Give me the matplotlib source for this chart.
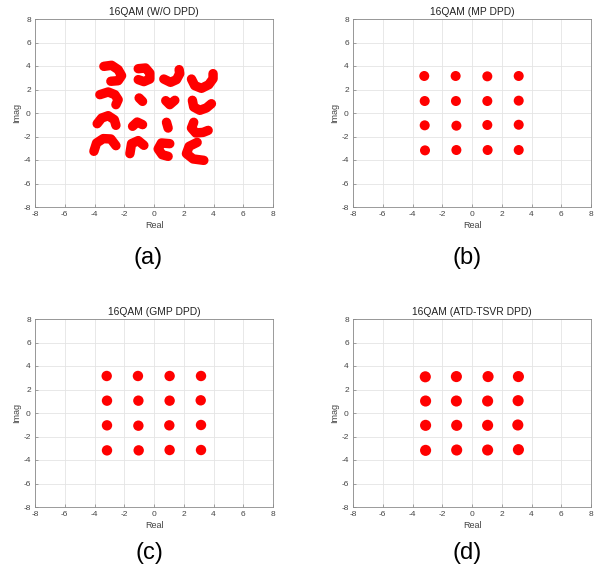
import numpy as np
import matplotlib
matplotlib.use("Agg")
import matplotlib.pyplot as plt

plt.rcParams['font.family'] = ['Liberation Sans', 'DejaVu Sans']
plt.rcParams['axes.unicode_minus'] = False

# --- dados ---
titles = ['16QAM (W/O DPD)', '16QAM (MP DPD)', '16QAM (GMP DPD)', '16QAM (ATD-TSVR DPD)']
panel_tags = ['(a)', '(b)', '(c)', '(d)']
ticks = [-8, -6, -4, -2, 0, 2, 4, 6, 8]

# (a) sem DPD: cada simbolo vira um "crescente" (pontos ao longo do arco)
arcs_real = [
    [-3.37, -2.85, -2.41, -2.18, -2.41, -2.90],
    [-1.06, -0.57, -0.28, -0.28, -0.68, -1.06],
    [0.66, 1.11, 1.51, 1.73, 1.69],
    [2.52, 2.74, 3.19, 3.68, 3.97, 3.97],
    [-3.64, -3.08, -2.63, -2.41, -2.56],
    [-1.00, -0.77],
    [0.79, 1.06, 1.40],
    [2.58, 2.67, 3.08, 3.52, 3.86],
    [-3.82, -3.52, -3.08, -2.67, -2.56],
    [-1.44, -1.13, -0.77],
    [0.84, 0.95],
    [2.67, 2.52, 2.81, 3.30, 3.64],
    [-4.04, -3.86, -3.41, -2.90, -2.56],
    [-1.62, -1.51, -1.06, -0.68],
    [1.06, 0.50, 0.28, 0.55, 0.95],
    [2.90, 2.36, 2.18, 2.63, 3.35],
]
arcs_imag = [
    [3.97, 4.06, 3.69, 3.18, 2.75, 2.70],
    [3.77, 3.83, 3.40, 2.89, 2.67, 2.84],
    [2.89, 2.61, 2.84, 3.35, 3.69],
    [2.89, 2.33, 2.10, 2.41, 2.92, 3.35],
    [1.56, 1.79, 1.56, 1.13, 0.71],
    [1.28, 0.99],
    [1.05, 0.71, 1.08],
    [1.08, 0.51, 0.23, 0.43, 0.79],
    [-0.91, -0.43, -0.23, -0.57, -1.05],
    [-1.13, -0.77, -0.99],
    [-0.79, -1.28],
    [-0.79, -1.28, -1.70, -1.65, -1.48],
    [-3.26, -2.55, -2.18, -2.21, -2.78],
    [-3.46, -2.61, -2.35, -2.75],
    [-2.61, -2.55, -3.06, -3.55, -3.69],
    [-2.50, -2.84, -3.46, -3.91, -4.03],
]

# (b)-(d): centros dos agrupamentos
mp_real = [-3.21, -1.10, 1.03, 3.14, -3.18, -1.08, 1.03, 3.14,
           -3.18, -1.05, 1.03, 3.14, -3.16, -1.05, 1.05, 3.14]
mp_imag = [3.15, 3.15, 3.12, 3.15, 1.02, 1.02, 1.02, 1.05,
           -1.05, -1.08, -1.02, -1.00, -3.18, -3.15, -3.15, -3.15]
gmp_real = [-3.18, -1.08, 1.05, 3.16, -3.16, -1.05, 1.05, 3.14,
            -3.16, -1.05, 1.03, 3.16, -3.16, -1.03, 1.05, 3.16]
gmp_imag = [3.15, 3.15, 3.15, 3.15, 1.05, 1.05, 1.05, 1.08,
            -1.05, -1.08, -1.05, -1.02, -3.18, -3.18, -3.15, -3.15]
atd_real = [-3.14, -1.05, 1.08, 3.12, -3.12, -1.05, 1.05, 3.10,
            -3.12, -1.03, 1.05, 3.08, -3.12, -1.03, 1.05, 3.12]
atd_imag = [3.08, 3.10, 3.10, 3.10, 1.02, 1.02, 1.02, 1.05,
            -1.05, -1.05, -1.05, -1.02, -3.18, -3.15, -3.15, -3.12]


def style_axes(ax, title):
    ax.set_xlim(-8, 8)
    ax.set_ylim(-8, 8)
    ax.set_xticks(ticks)
    ax.set_yticks(ticks)
    ax.grid(True, color='#e4e4e4', linewidth=0.6)
    ax.set_axisbelow(True)
    ax.tick_params(direction='in', length=2.5, width=0.5, labelsize=6,
                   colors='#808080', labelcolor='#444444', pad=3)
    for sp in ax.spines.values():
        sp.set_color('#8a8a8a')
        sp.set_linewidth(0.6)
    ax.set_title(title, fontsize=7.4, color='#222222', pad=3)
    ax.set_xlabel('Real', fontsize=6.5, color='#444444', labelpad=2)
    ax.set_ylabel('Imag', fontsize=6.5, color='#444444', labelpad=2)


fig = plt.figure(figsize=(5.97, 5.72), dpi=100)
W, H = 597.0, 572.0
boxes = [(35, 19), (353, 19), (35, 319), (353, 319)]
axes = []
for (x0, y0) in boxes:
    ax = fig.add_axes([x0 / W, 1 - (y0 + 188) / H, 238 / W, 188 / H])
    axes.append(ax)

# (a)
ax = axes[0]
style_axes(ax, titles[0])
for xr, yi in zip(arcs_real, arcs_imag):
    ax.plot(xr, yi, color='red', linewidth=6.8, solid_capstyle='round',
            solid_joinstyle='round')

# (b)-(d)
for ax, xr, yi, title, s in zip(axes[1:], [mp_real, gmp_real, atd_real],
                                 [mp_imag, gmp_imag, atd_imag], titles[1:],
                                 [52, 56, 64]):
    style_axes(ax, title)
    ax.scatter(xr, yi, s=s, color='red', edgecolors='none')

# rotulos dos paineis
tag_pos = [(148, 258), (467, 258), (149, 553), (467, 553)]
for tag, (tx, ty) in zip(panel_tags, tag_pos):
    fig.text(tx / W, 1 - ty / H, tag, fontsize=17, ha='center', va='center',
             color='black')

fig.savefig('out.png', dpi=100)
plt.close(fig)
